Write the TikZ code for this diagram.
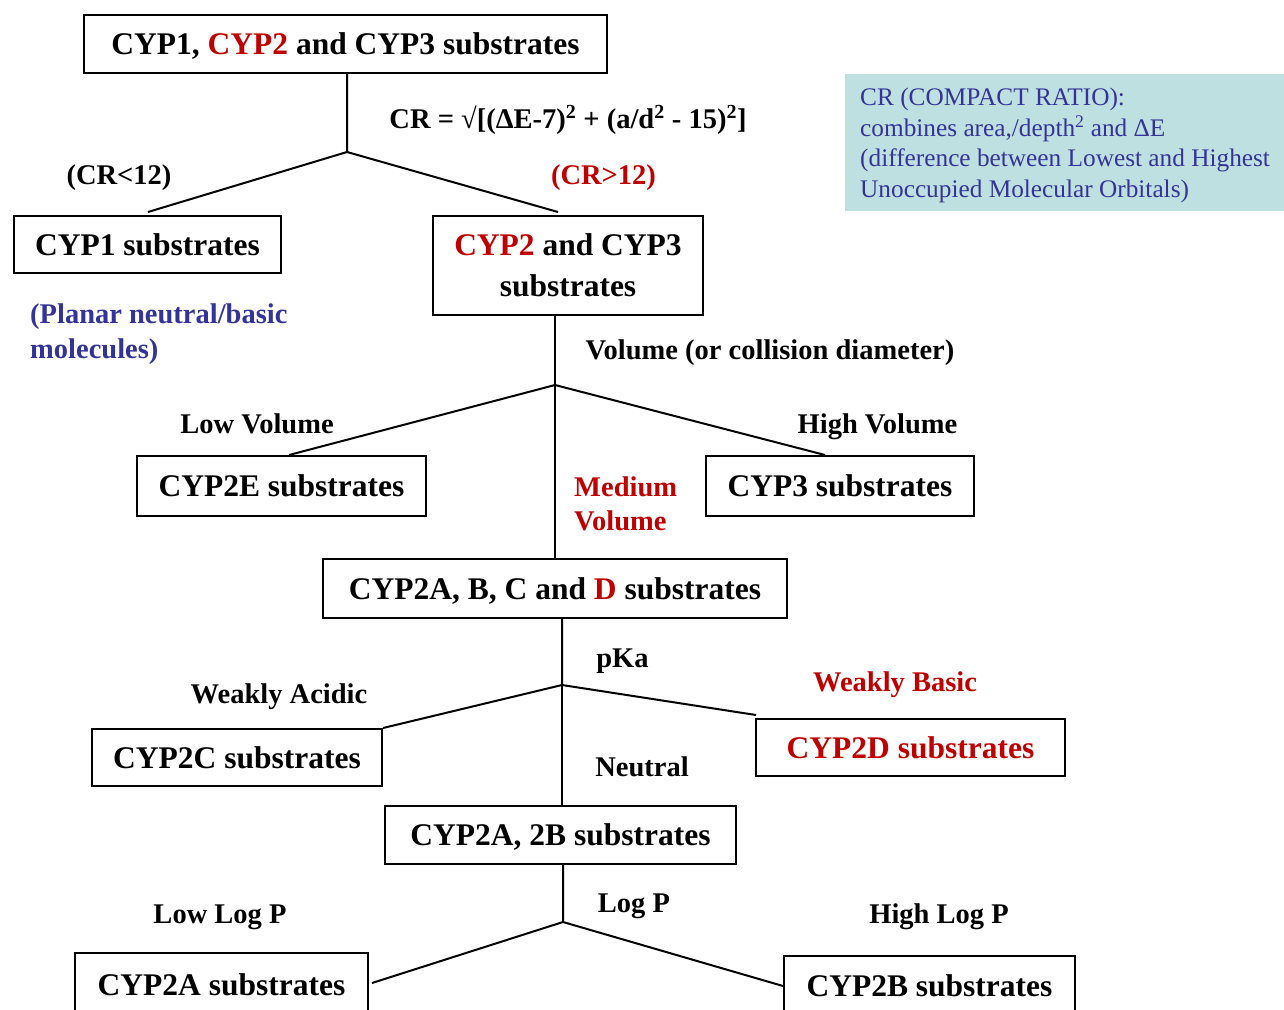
\documentclass[tikz,border=0pt]{standalone}
\usepackage{fontspec}
\setmainfont{Liberation Serif}
\definecolor{cred}{HTML}{C00000}
\definecolor{cnavy}{HTML}{333399}
\definecolor{cbg}{HTML}{BFE0E0}
\begin{document}
\begin{tikzpicture}[x=1pt,y=-1pt,
  box/.style={draw=black, line width=2pt, rectangle, inner sep=0pt,
    font=\fontsize{31.5}{41}\selectfont\bfseries, text height=21pt, text depth=0pt, align=center},
  lbl/.style={font=\fontsize{28.5}{34}\selectfont\bfseries, inner sep=0pt, anchor=base},
  lblw/.style={lbl, anchor=base west},
  conn/.style={line width=2pt}]
\useasboundingbox (0,0) rectangle (1284,1009);
\clip (0,0) rectangle (1284,1009);

% boxes
\node[box, minimum width=523pt, minimum height=58pt] (top) at (345.5,44) {CYP1, \textcolor{cred}{CYP2} and CYP3 substrates};
\node[box, minimum width=267pt, minimum height=57pt] (cyp1) at (147.5,244.5) {CYP1 substrates};
\node[box, minimum width=270pt, minimum height=99pt, text height=62pt] (cyp23) at (568,265.5) {\textcolor{cred}{CYP2} and CYP3\\substrates};
\node[box, minimum width=289pt, minimum height=60pt] (cyp2e) at (281.5,486) {CYP2E substrates};
\node[box, minimum width=268pt, minimum height=60pt] (cyp3) at (840,486) {CYP3 substrates};
\node[box, minimum width=464pt, minimum height=59pt] (cyp2abcd) at (555,588.5) {CYP2A, B, C and \textcolor{cred}{D} substrates};
\node[box, minimum width=290pt, minimum height=57pt] (cyp2c) at (237,757.5) {CYP2C substrates};
\node[box, minimum width=309pt, minimum height=57pt, text=cred] (cyp2d) at (910.5,747.5) {CYP2D substrates};
\node[box, minimum width=351pt, minimum height=58pt] (cyp2ab) at (560.5,835) {CYP2A, 2B substrates};
\node[box, minimum width=293pt, minimum height=64pt] (cyp2a) at (221.5,985) {CYP2A substrates};
\node[box, minimum width=291pt, minimum height=60pt] (cyp2b) at (929.5,986) {CYP2B substrates};

% CR info box
\node[fill=cbg, anchor=north west, minimum width=439pt, minimum height=137pt, inner sep=0pt] (crbg) at (845,74) {};
\node[anchor=north west, align=left, inner sep=0pt, text=cnavy,
  font=\fontsize{25.3}{30.5}\selectfont] (crtext) at (860,88)
  {CR (COMPACT RATIO):\\combines area,/depth\textsuperscript{2} and ΔE\\(difference between Lowest and Highest\\Unoccupied Molecular Orbitals)};

% connectors
\coordinate (b1) at (347,152);
\coordinate (e1l) at (148,212);
\coordinate (e1r) at (558,212);
\draw[conn] (top.south -| b1) -- (b1) -- (e1l);
\draw[conn] (b1) -- (e1r);

\coordinate (b2) at (555,385);
\coordinate (e2l) at (289,455);
\coordinate (e2r) at (825,455);
\draw[conn] (cyp23.south -| b2) -- (cyp2abcd.north -| b2);
\draw[conn] (e2l) -- (b2) -- (e2r);

\coordinate (b3) at (562,685);
\coordinate (e3r) at (756,715);
\draw[conn] (cyp2abcd.south -| b3) -- (b3) -- (cyp2c.north east);
\draw[conn] (b3) -- (e3r);
\draw[conn] (b3) -- (cyp2ab.north -| b3);

\coordinate (b4) at (563,922);
\coordinate (e4l) at (372,983);
\draw[conn] (cyp2ab.south -| b4) -- (b4) -- (e4l);
\draw[conn] (b4) -- (cyp2b.west);

% labels
\node[lbl] (formula) at (568,128) {CR = √[(ΔE-7)\textsuperscript{2} + (a/d\textsuperscript{2} - 15)\textsuperscript{2}]};
\node[lbl] (crlt) at (119,184) {(CR<12)};
\node[lbl, text=cred] (crgt) at (603.5,184) {(CR>12)};
\node[lblw, text=cnavy] (planar1) at (30,323) {(Planar neutral/basic};
\node[lblw, text=cnavy] (planar2) at (30,358) {molecules)};
\node[lbl] (volume) at (770,359) {Volume (or collision diameter)};
\node[lbl] (lowvol) at (257,433) {Low Volume};
\node[lbl] (highvol) at (877.5,433) {High Volume};
\node[lblw, text=cred] (medvol1) at (574,496) {Medium};
\node[lblw, text=cred] (medvol2) at (574,530) {Volume};
\node[lbl] (pka) at (622.5,667) {pKa};
\node[lbl] (acidic) at (279,703) {Weakly Acidic};
\node[lbl, text=cred] (basic) at (895,691) {Weakly Basic};
\node[lbl] (neutral) at (642,776) {Neutral};
\node[lbl] (logp) at (634,912) {Log P};
\node[lbl] (lowlogp) at (220,923) {Low Log P};
\node[lbl] (highlogp) at (939,923) {High Log P};
\end{tikzpicture}
\end{document}
